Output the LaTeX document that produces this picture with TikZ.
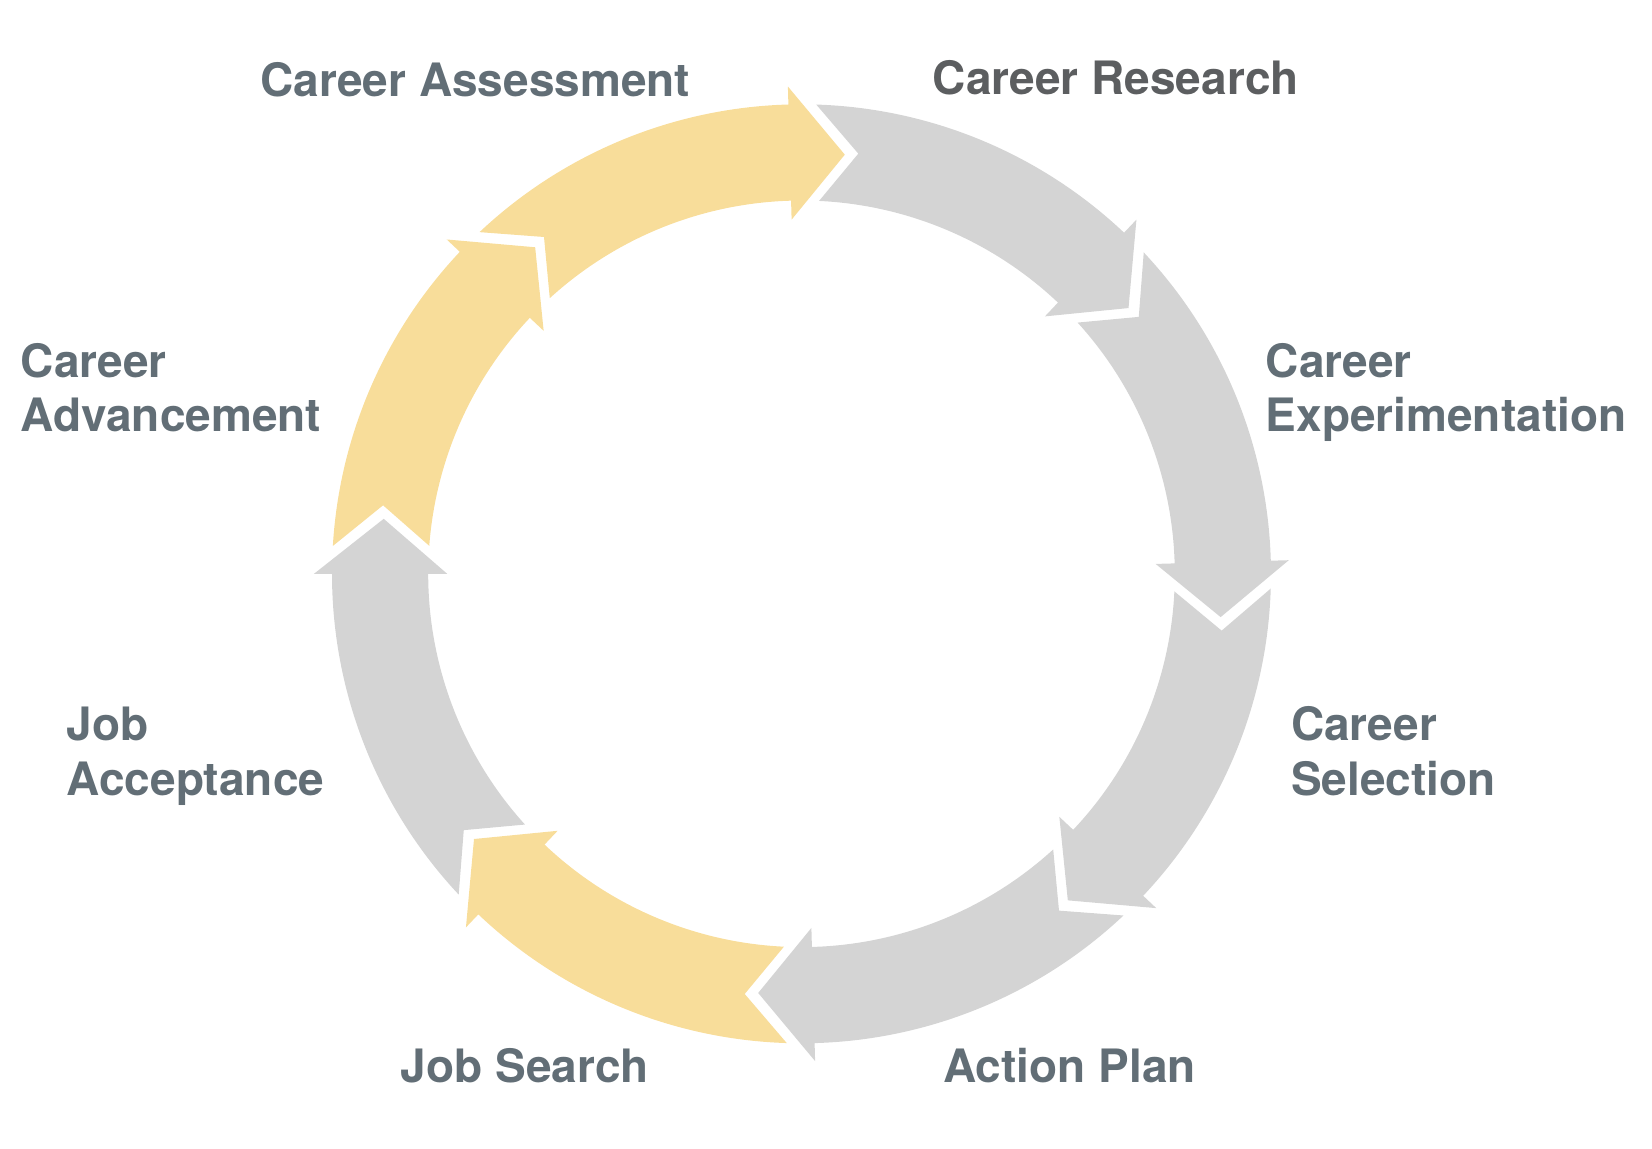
\documentclass[tikz,border=0pt]{standalone}
\usepackage{fontspec}
\setmainfont{TeX Gyre Heros}
\newcommand{\ringOuter}{469.5}
\newcommand{\ringInner}{373.3}
\newcommand{\ringMid}{421.4}
\newcommand{\notchRadius}{424}
\newcommand{\barbOuter}{487.5}
\newcommand{\barbInner}{354.3}
\definecolor{ringYellow}{RGB}{248,221,154}
\definecolor{ringGray}{RGB}{212,212,212}
\definecolor{labelSlate}{RGB}{98,110,118}
\definecolor{labelDark}{RGB}{92,94,96}
\tikzset{
  cycle label/.style={font=\fontsize{23}{27.35}\selectfont\bfseries,
    text=labelSlate, align=left, anchor=base west, inner sep=0pt},
}

\begin{document}
\begin{tikzpicture}[x=0.5pt, y=0.5pt]
\useasboundingbox (-801.5,-574.2) rectangle (850.5,573.8);

% ring of arrows, clockwise from the top
\foreach \s/\e/\col in {136.7/91.6/ringYellow, 91.6/46.6/ringGray,
    46.6/1.6/ringGray, 1.6/-43.3/ringGray, -43.3/-88.4/ringGray,
    -88.4/-133.5/ringYellow, 226.5/180/ringGray, 180/136.7/ringYellow}{
  \pgfmathsetmacro{\tailOut}{\s-3.4}
  \pgfmathsetmacro{\tailIn}{\s-4.3}
  \pgfmathsetmacro{\tailNotch}{\s-9.3}
  \pgfmathsetmacro{\headTip}{\e-7.5}
  \fill[\col] (\tailOut:\ringOuter)
    arc[start angle=\tailOut, end angle=\e, radius=\ringOuter]
    -- (\e:\barbOuter) -- (\headTip:\ringMid) -- (\e:\barbInner)
    -- (\e:\ringInner)
    arc[start angle=\e, end angle=\tailIn, radius=\ringInner]
    -- (\tailNotch:\notchRadius) -- cycle;
}

% labels (two-line ones sit on the baseline of their last line)
\node[cycle label] (assess) at (-541.5,477.8) {Career Assessment};
\node[cycle label, text=labelDark] (research) at (131,479.8) {Career Research};
\node[cycle label] (experiment) at (463.9,142.1) {Career\\Experimentation};
\node[cycle label] (select) at (489.2,-221.6) {Career\\Selection};
\node[cycle label] (plan) at (141.5,-508.2) {Action Plan};
\node[cycle label] (search) at (-401,-508.2) {Job Search};
\node[cycle label] (accept) at (-735.1,-221.6) {Job\\Acceptance};
\node[cycle label] (advance) at (-781,142.1) {Career\\Advancement};
\end{tikzpicture}
\end{document}
